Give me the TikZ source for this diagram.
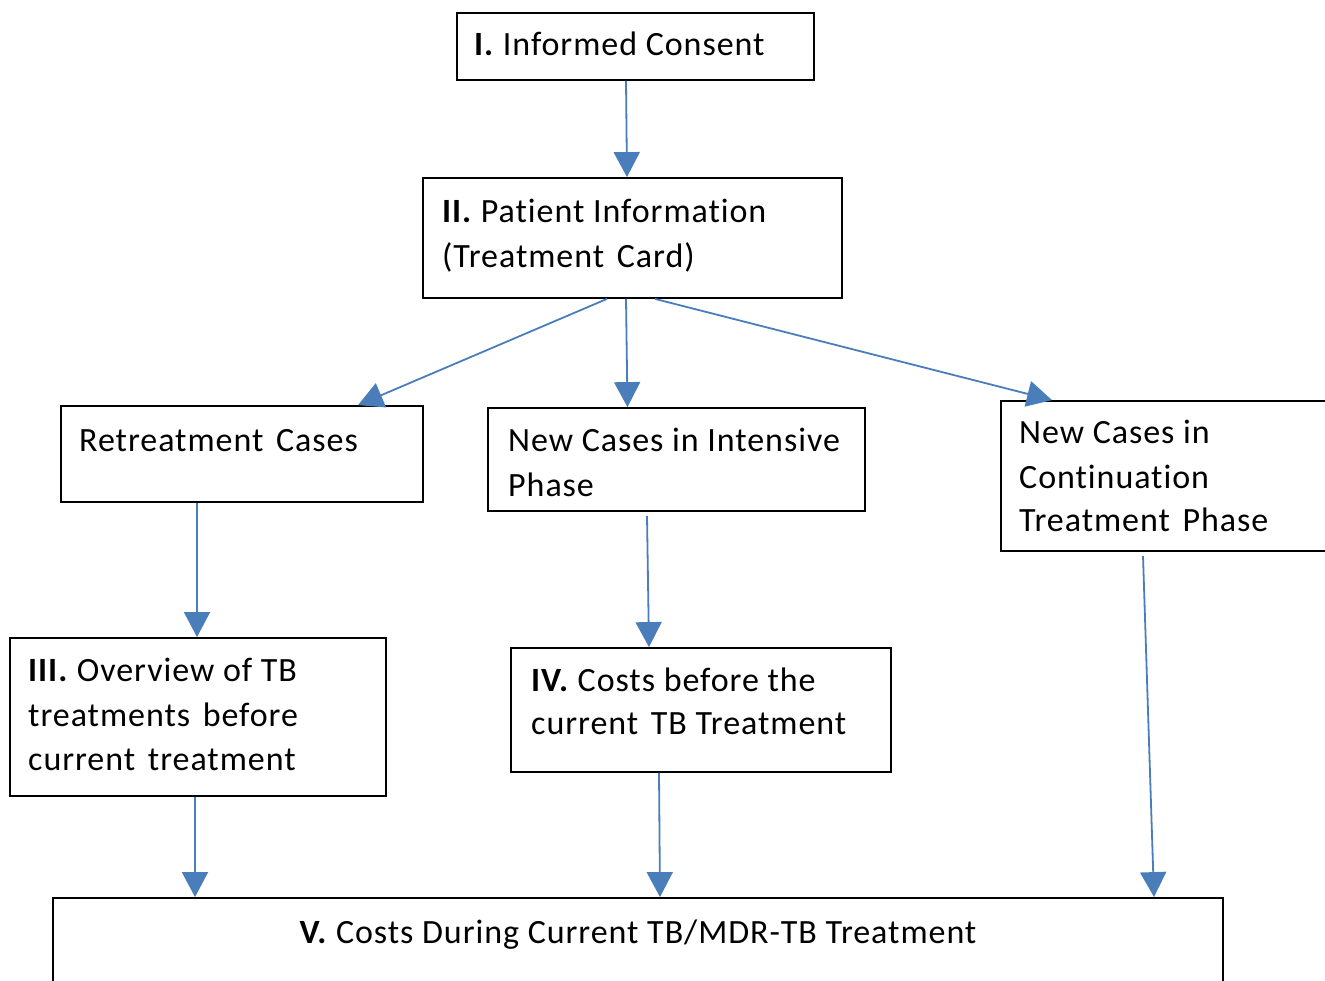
\documentclass[tikz,border=0pt]{standalone}
\usepackage{fontspec}
\setmainfont{Carlito}[LetterSpace=2.8,Ligatures=NoCommon]
\usetikzlibrary{arrows.meta,fit}
\definecolor{arrblue}{HTML}{4A7EBB}
\newcommand{\wsp}{\ \hspace{4pt}}
\begin{document}
\begin{tikzpicture}[x=1pt,y=-1pt,
  box/.style={draw=black,line width=1.8pt,inner sep=0pt,fill=none},
  txt/.style={anchor=base west,inner sep=0pt,font=\fontsize{34}{44}\selectfont},
  arr/.style={draw=arrblue,line width=1.8pt,-{Triangle[width=26pt,length=25pt]}}]
\useasboundingbox (0,0) rectangle (1325,981);
\clip (0,0) rectangle (1325,981);
% boxes
\node[box,fit={(457,13) (814,80)}] (b1) {};
\node[box,fit={(423,178) (842,298)}] (b2) {};
\node[box,fit={(61,406) (423,502)}] (b3) {};
\node[box,fit={(488,408) (865,511)}] (b4) {};
\node[box,fit={(1001,401) (1335,551)}] (b5) {};
\node[box,fit={(10,638) (386,796)}] (b6) {};
\node[box,fit={(511,648) (891,772)}] (b7) {};
\node[box,fit={(53,898) (1223,1100)}] (b8) {};
% texts
\node[txt] (t1) at (474,56) {\textbf{I.} Informed Consent};
\node[txt] (t2a) at (442,223) {\textbf{II.} Patient Information};
\node[txt] (t2b) at (442,268) {(Treatment\wsp Card)};
\node[txt] (t3) at (79,451) {Retreatment\wsp Cases};
\node[txt] (t4a) at (508,451) {New Cases in Intensive};
\node[txt] (t4b) at (508,496) {Phase};
\node[txt] (t5a) at (1019,443) {New Cases in};
\node[txt] (t5b) at (1019,488) {Continuation};
\node[txt] (t5c) at (1019,531) {Treatment\wsp Phase};
\node[txt] (t6a) at (28,681) {\textbf{III.} Overview of TB};
\node[txt] (t6b) at (28,726) {treatments\wsp before};
\node[txt] (t6c) at (28,770) {current\wsp treatment};
\node[txt] (t7a) at (531,691) {\textbf{IV.} Costs before the};
\node[txt] (t7b) at (531,734) {current\wsp TB Treatment};
\node[txt,anchor=base] (t8) at (638,943) {\textbf{V.} Costs During Current TB/MDR-TB Treatment};
% arrows
\draw[arr] ([xshift=-9.5pt]b1.south) -- ([xshift=-5.5pt]b2.north);
\draw[arr] ([xshift=-25.5pt]b2.south) -- ([xshift=116pt]b3.north);
\draw[arr] ([xshift=-6.5pt]b2.south) -- ([xshift=-49pt]b4.north);
\draw[arr] ([xshift=22.5pt]b2.south) -- ([xshift=-116pt]b5.north);
\draw[arr] ([xshift=-45pt]b3.south) -- ([xshift=-1pt]b6.north);
\draw[arr] ([xshift=-29.5pt,yshift=-4pt]b4.south) -- ([xshift=-52pt]b7.north);
\draw[arr] ([xshift=-3pt]b6.south) -- ([xshift=-443pt]b8.north);
\draw[arr] ([xshift=-42pt]b7.south) -- ([xshift=22pt]b8.north);
\draw[arr] ([xshift=-25pt,yshift=-4pt]b5.south) -- ([xshift=516pt]b8.north);
\end{tikzpicture}
\end{document}
